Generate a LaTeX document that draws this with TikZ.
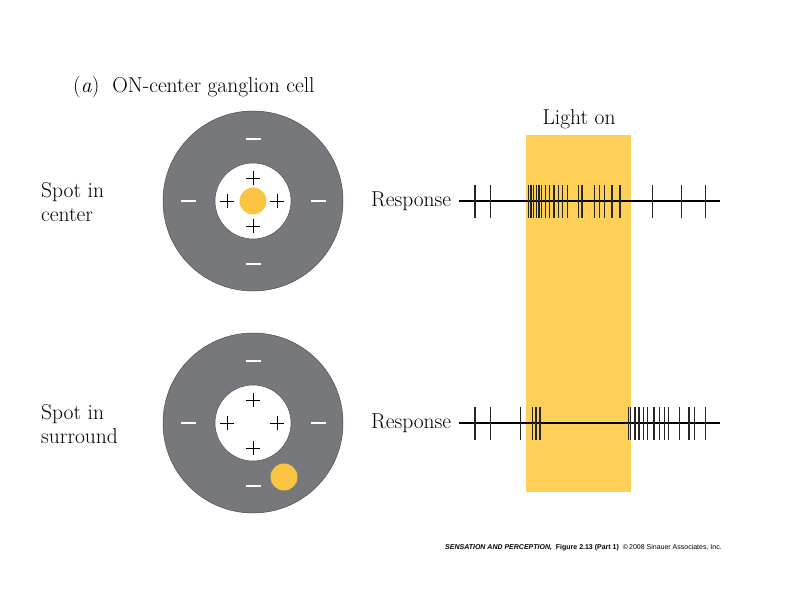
\documentclass[tikz,border=0pt]{standalone}
\usepackage{fontspec}
\newfontfamily\footfont{Liberation Sans}
\definecolor{ringgray}{RGB}{119,120,124}
\definecolor{lightyellow}{RGB}{254,208,88}
\definecolor{spotyellow}{RGB}{251,196,66}
\begin{document}
\begin{tikzpicture}[
    x=1pt, y=-1pt,
    bigtext/.style={
        font=\fontsize{21.5}{24}\selectfont,
        inner sep=0pt
    },
    outerring/.style={
        fill=ringgray,
        draw=black!70,
        line width=0.5pt
    },
    innerdisk/.style={
        fill=white,
        draw=black!70,
        line width=0.5pt
    },
    spot/.style={
        fill=spotyellow,
        draw=none
    },
    plussign/.style={
        draw=black,
        line width=0.9pt
    },
    minussign/.style={
        draw=white,
        line width=1.8pt
    },
    spike/.style={
        draw=black!85,
        line width=1.4pt
    },
    respline/.style={
        draw=black,
        line width=1.2pt
    }
]

\useasboundingbox[fill=white] (0,0) rectangle (792,612);

% Title
\node[bigtext, anchor=west] (title) at (73, 87) {(\textit{a})\ \ ON-center ganglion cell};

% ============ LIGHT BAR ============
\fill[lightyellow] (526, 135) rectangle (631, 492);
\node[bigtext] (lighton) at (579, 119) {Light on};

% ============ RECEPTIVE FIELDS ============
\foreach \cy/\name in {201/top, 423/bot} {
    \fill[outerring] (253, \cy) circle (90);
    \fill[innerdisk] (253, \cy) circle (38);
    % plus signs in the center
    \foreach \px/\py in {0/-23, 0/25, -26/0, 24/0} {
        \draw[plussign] (253+\px-7, \cy+\py) -- (253+\px+7, \cy+\py);
        \draw[plussign] (253+\px, \cy+\py-7) -- (253+\px, \cy+\py+7);
    }
    % minus signs in the surround
    \foreach \mx/\my in {0/-62, 0/63, -65/0, 65/0} {
        \draw[minussign] (253+\mx-7.5, \cy+\my) -- (253+\mx+7.5, \cy+\my);
    }
}

% Light spots
\fill[spot] (253, 201) circle (13.5);
\fill[spot] (284, 477) circle (13.5);

% Labels
\node[bigtext, anchor=west, align=left] (lbltop) at (41, 202) {Spot in\\center};
\node[bigtext, anchor=west, align=left] (lblbot) at (41, 424) {Spot in\\surround};

% ============ RESPONSES ============
\node[bigtext, anchor=west] (resptop) at (371, 201) {Response};
\node[bigtext, anchor=west] (respbot) at (371, 423) {Response};
\coordinate (endtop) at (720, 201);
\coordinate (endbot) at (720, 423);
\draw[respline] ([xshift=8pt]resptop.east) -- (endtop);
\draw[respline] ([xshift=8pt]respbot.east) -- (endbot);

% spikes, spot in center
\foreach \sx in {475, 490.7, 528.3, 531, 533.7, 536.7, 539, 541.5, 545.5, 549.5,
    554, 558.5, 562.5, 567.5, 578.5, 582, 594.5, 599.5, 604.5, 612, 620,
    652.3, 681.7, 705.7} {
    \draw[spike] (\sx, 185) -- (\sx, 218);
}

% spikes, spot in surround
\foreach \sx in {475, 490.7, 520.7, 532.3, 536, 540, 628.3, 630.7, 635, 639,
    643.3, 647.3, 654, 659.3, 664.3, 668.3, 679.3, 689, 694.5, 705.5} {
    \draw[spike] (\sx, 407) -- (\sx, 440);
}

% Footer
\node[anchor=west, inner sep=0pt, font=\footfont\fontsize{7}{8}\selectfont] (credit) at (445, 548)
    {\textbf{\textit{SENSATION AND PERCEPTION,}}\ \ \textbf{Figure 2.13 (Part 1)}\ \ \textcopyright\,2008 Sinauer Associates, Inc.};

\end{tikzpicture}
\end{document}
